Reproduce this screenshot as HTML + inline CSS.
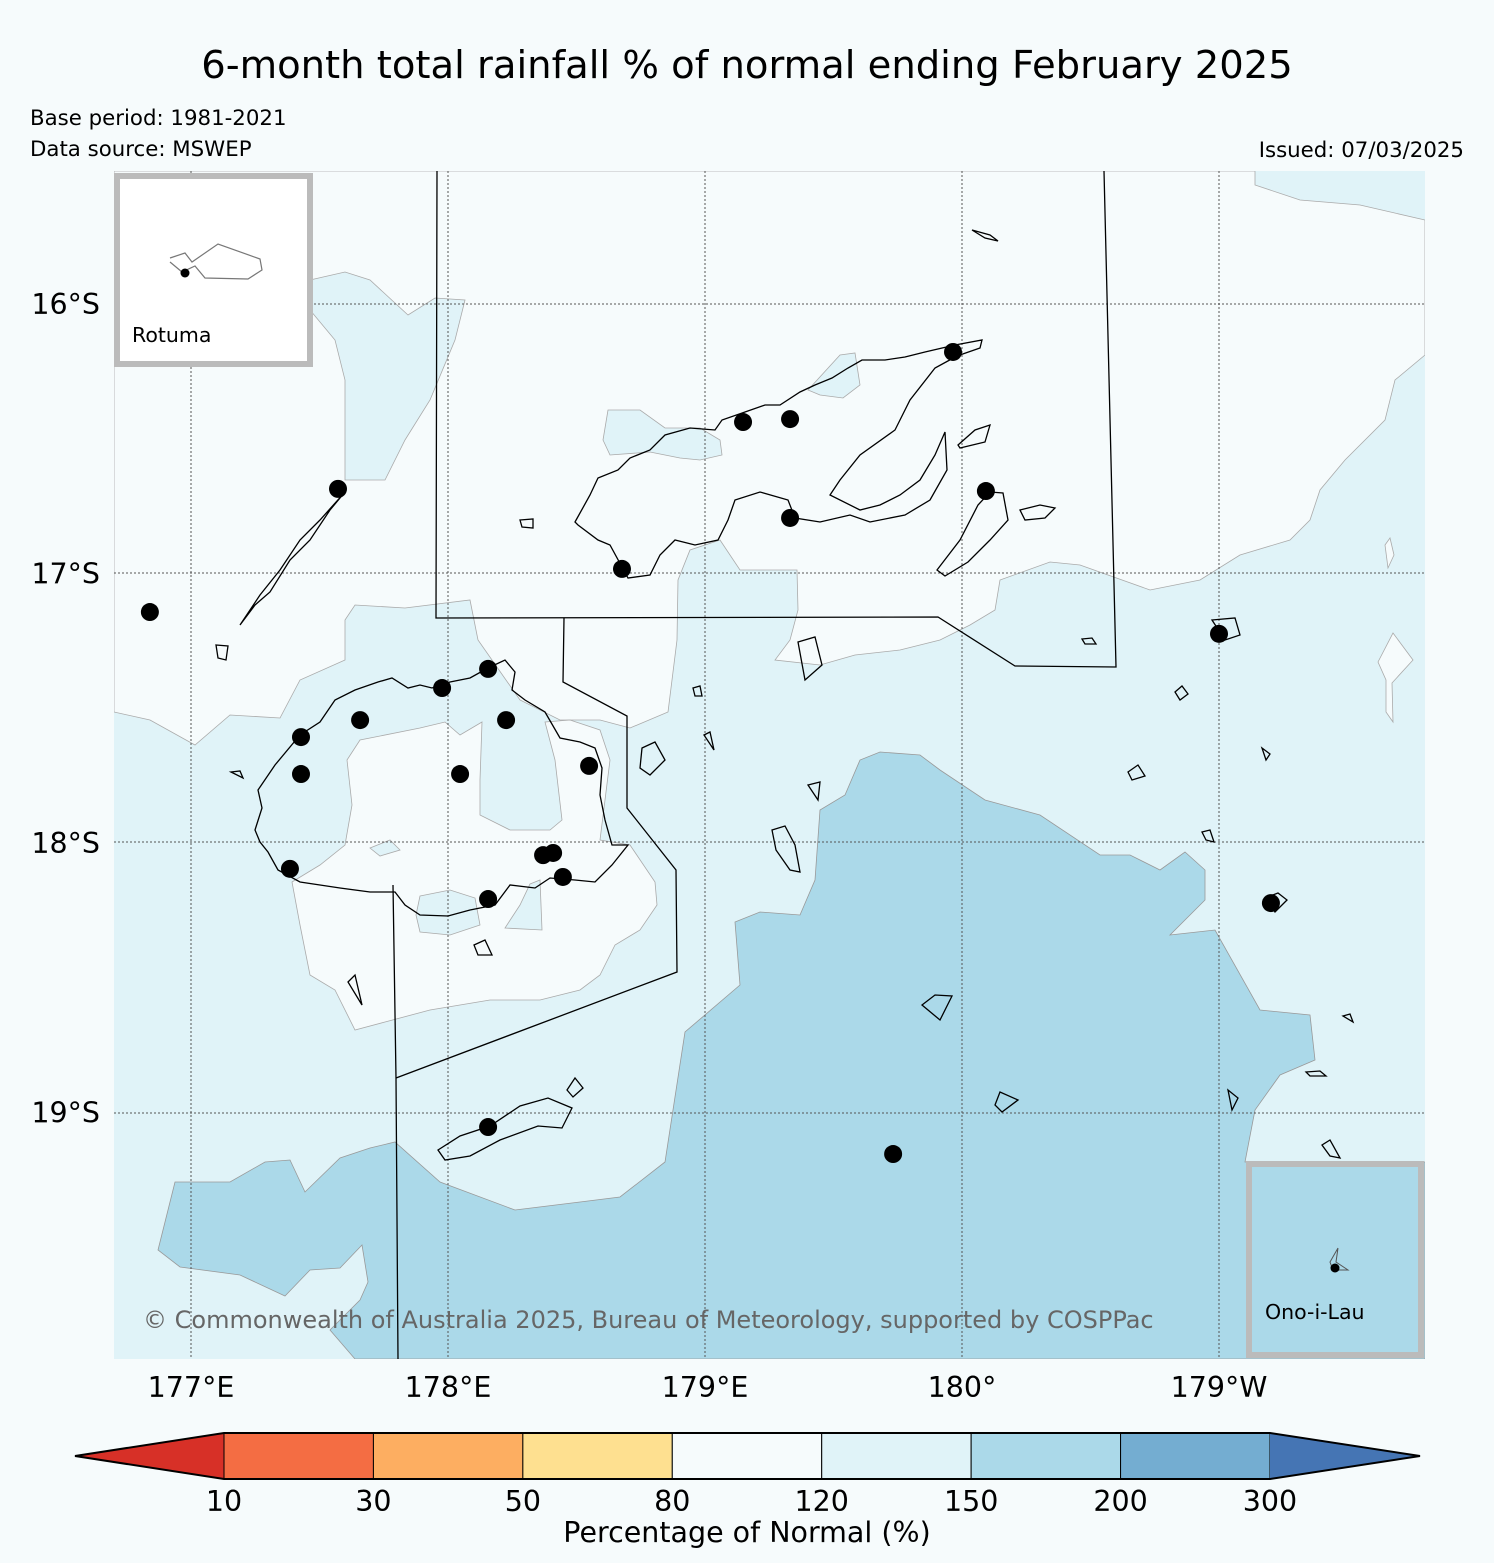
<!DOCTYPE html>
<html><head><meta charset="utf-8"><style>
html,body{margin:0;padding:0;background:#f6fbfc;}
svg{display:block;font-family:"DejaVu Sans","Liberation Sans",sans-serif;}
</style></head><body>
<svg id="fig" width="1494" height="1563" viewBox="0 0 1494 1563" xmlns="http://www.w3.org/2000/svg">
<rect width="1494" height="1563" fill="#f6fbfc"/>
<text x="747" y="78" font-size="38.5" text-anchor="middle" fill="#000">6-month total rainfall % of normal ending February 2025</text>
<text x="30" y="125" font-size="21.3">Base period: 1981-2021</text>
<text x="30" y="156" font-size="21.3">Data source: MSWEP</text>
<text x="1464" y="157" font-size="21.3" text-anchor="end">Issued: 07/03/2025</text>

<defs><clipPath id="mapclip"><rect x="114" y="171" width="1311" height="1188"/></clipPath></defs>
<g id="map" clip-path="url(#mapclip)">
<rect x="114" y="171" width="1311" height="1188" fill="#e0f3f8"/>
<polygon fill="#f6fbfc" stroke="#aaa" stroke-width="0.8" points="114,171 1255,171 1255,185 1300,200 1360,205 1425,220 1425,355 1395,380 1385,420 1345,460 1320,490 1310,520 1290,540 1240,555 1200,580 1150,590 1080,565 1050,562 1000,580 995,610 970,625 940,640 900,650 855,655 820,665 775,660 790,640 798,610 797,570 740,570 720,540 690,550 678,580 677,640 668,712 630,728 600,720 560,720 520,700 478,640 470,600 405,608 355,605 345,620 345,660 300,680 280,718 230,715 195,745 150,720 114,712"/>
<polygon fill="#e0f3f8" stroke="#aaa" stroke-width="0.8" points="310,280 345,272 370,280 408,315 435,298 465,300 455,340 430,400 405,440 385,480 345,480 345,380 335,340 310,310"/>
<polygon fill="#e0f3f8" stroke="#aaa" stroke-width="0.8" points="608,410 640,410 665,428 700,428 720,440 722,455 700,460 680,458 650,452 610,455 603,440"/>
<polygon fill="#e0f3f8" stroke="#aaa" stroke-width="0.8" points="808,390 840,355 855,353 860,385 843,398 820,395"/>
<polygon fill="#f6fbfc" stroke="#aaa" stroke-width="0.8" points="1385,545 1390,538 1394,555 1388,568"/>
<polygon fill="#f6fbfc" stroke="#aaa" stroke-width="0.8" points="1378,662 1393,633 1413,660 1392,683 1393,722 1386,712 1386,680"/>
<polygon fill="#f6fbfc" stroke="#aaa" stroke-width="0.8" points="292,882 320,865 345,845 352,805 347,760 360,740 420,728 445,722 460,735 482,722 480,780 480,815 510,830 550,830 562,820 555,760 545,722 570,720 600,730 610,760 605,800 600,840 630,845 655,882 657,905 640,930 615,945 600,975 580,990 540,1000 490,1000 430,1010 385,1022 355,1030 335,990 310,975 300,925"/>
<polygon fill="#e0f3f8" stroke="#aaa" stroke-width="0.8" points="420,896 450,890 475,898 480,925 450,935 420,932 416,915"/>
<polygon fill="#e0f3f8" stroke="#aaa" stroke-width="0.8" points="530,884 540,880 542,930 505,928 520,905"/>
<polygon fill="#e0f3f8" stroke="#aaa" stroke-width="0.8" points="370,848 390,840 400,850 380,856"/>
<polygon fill="#abd9e9" stroke="#999" stroke-width="0.8" points="158,1250 175,1182 230,1182 265,1162 290,1160 305,1192 340,1158 370,1148 395,1142 440,1182 515,1210 580,1202 620,1197 665,1162 685,1032 740,985 735,922 760,912 800,915 815,880 820,810 845,795 860,760 880,752 920,755 940,770 985,800 1040,815 1100,855 1130,855 1160,870 1185,852 1205,870 1205,900 1170,935 1215,930 1260,1010 1310,1015 1315,1060 1280,1075 1255,1110 1245,1162 1425,1162 1425,1359 355,1359 330,1330 360,1300 368,1282 362,1245 340,1268 310,1270 285,1296 240,1275 180,1267"/>
<g stroke="#555" stroke-width="1" stroke-dasharray="2,2" fill="none">
<line x1="191" y1="171" x2="191" y2="1359"/><line x1="448" y1="171" x2="448" y2="1359"/><line x1="705" y1="171" x2="705" y2="1359"/><line x1="962" y1="171" x2="962" y2="1359"/><line x1="1219" y1="171" x2="1219" y2="1359"/>
<line x1="114" y1="304" x2="1425" y2="304"/><line x1="114" y1="573" x2="1425" y2="573"/><line x1="114" y1="842" x2="1425" y2="842"/><line x1="114" y1="1113" x2="1425" y2="1113"/>
</g>
<g fill="none" stroke="#000" stroke-width="1.3">
<polygon points="255,830 262,808 258,790 275,765 300,735 320,722 335,700 355,690 378,682 392,678 408,688 420,685 432,688 450,682 470,678 488,668 505,660 515,672 512,690 525,700 545,712 560,738 580,742 595,748 602,768 600,795 605,820 612,845 628,845 612,865 595,882 575,880 550,878 535,888 510,885 495,905 470,910 448,916 420,915 405,905 395,892 370,892 340,888 320,885 300,882 278,870 268,852 260,842"/>
<polygon points="575,522 590,495 598,478 618,470 630,458 650,450 665,435 690,428 715,430 722,420 745,412 765,405 780,405 800,392 815,385 832,378 848,368 862,360 885,360 905,357 925,352 955,345 982,340 980,348 957,356 935,368 910,400 895,430 860,455 840,480 830,495 860,510 880,505 900,495 920,480 935,455 945,432 947,470 930,500 905,515 870,522 850,515 820,522 795,518 788,500 760,492 735,500 728,520 718,540 695,545 675,540 660,555 650,575 628,578 610,545 598,540 578,525"/>
<polygon points="937,570 960,540 978,505 990,492 1003,493 1008,520 990,540 968,562 945,576"/>
<polygon points="438,1150 460,1136 490,1126 520,1106 548,1098 572,1108 562,1128 538,1126 500,1140 470,1156 445,1160"/>
<polygon points="240,625 255,605 270,592 290,560 310,540 330,510 345,492 320,520 300,540 280,570 260,595"/>
<polygon points="772,830 785,826 795,845 800,872 790,870 776,850"/>
<polygon points="642,748 655,742 665,760 650,775 640,768"/>
<polygon points="922,1005 935,995 952,996 940,1020"/>
<polygon points="995,1105 1000,1092 1018,1100 1002,1112"/>
<polygon points="1265,898 1278,893 1287,900 1275,912"/>
<polygon points="348,982 355,975 362,1005"/>
<polygon points="474,945 485,940 492,955 478,955"/>
<polygon points="798,642 815,637 822,665 805,680"/>
<polygon points="1128,772 1138,765 1145,776 1132,780"/>
<polygon points="1175,692 1182,686 1188,694 1180,700"/>
<polygon points="1212,620 1235,618 1240,635 1225,640"/>
<polygon points="1228,1090 1238,1098 1232,1110"/>
<polygon points="972,230 990,235 998,241 985,238"/>
<polygon points="958,445 975,430 990,425 985,442 960,448"/>
<polygon points="1020,510 1040,505 1055,508 1045,518 1025,520"/>
<polygon points="216,645 228,646 226,660 218,658"/>
<polygon points="520,520 533,519 533,528 522,527"/>
<polygon points="231,772 240,771 243,778"/>
<polygon points="567,1090 575,1078 583,1088 573,1097"/>
<polygon points="808,785 820,782 818,800"/>
<polygon points="1202,832 1210,830 1214,842 1206,840"/>
<polygon points="1262,748 1270,754 1266,760"/>
<polygon points="1343,1016 1350,1014 1353,1022"/>
<polygon points="1306,1072 1320,1071 1326,1076 1310,1076"/>
<polygon points="1322,1145 1330,1140 1340,1158 1330,1156"/>
<polygon points="1082,639 1092,638 1096,644 1085,644"/>
<polygon points="693,688 700,686 702,696 695,696"/>
<polygon points="704,735 710,732 714,750"/>
</g>
<g fill="none" stroke="#000" stroke-width="1.3">
<polyline points="437,171 436,618 938,617 1015,666 1116,667 1104,171"/>
<polyline points="564,618 563,682 627,716 627,808 676,870 677,972 396,1078"/>
<polyline points="393,885 396,1078 398,1359"/>
</g>
<g id="stations"></g>
<text x="143" y="1328" font-size="24" fill="#666">© Commonwealth of Australia 2025, Bureau of Meteorology, supported by COSPPac</text>
</g>

<g>
<rect x="117" y="176" width="193" height="188" fill="#fff" stroke="#bbb" stroke-width="6"/>
<polyline points="170,258 185,253 192,262 218,244 260,259 262,270 248,279 205,278 195,266 182,272 170,262" fill="none" stroke="#777" stroke-width="1.2"/>
<circle cx="185" cy="273" r="4.5" fill="#000"/>
<text x="132" y="342" font-size="20.5">Rotuma</text>
</g>
<g>
<rect x="1249" y="1164" width="172" height="191" fill="#abd9e9" stroke="#bbb" stroke-width="6"/>
<polyline points="1338,1248 1330,1262 1333,1270 1348,1270 1336,1262 1338,1248" fill="none" stroke="#555" stroke-width="1"/>
<circle cx="1335" cy="1268" r="4.5" fill="#000"/>
<text x="1265" y="1319" font-size="20.5">Ono-i-Lau</text>
</g>

<g id="axes-labels" font-size="28.5"></g>
<g id="colorbar"></g>
<text x="747" y="1542" font-size="28.5" text-anchor="middle">Percentage of Normal (%)</text>
</svg>
<script>
// station data (longitude east, 0-360; latitude south)
const stationLon = [177.572,176.840,179.965,179.148,179.331,180.093,179.331,178.677,181.0,177.977,178.156,177.658,178.226,177.428,177.428,178.047,178.549,178.370,178.409,178.447,177.385,178.156,178.156,179.732,181.202];
const stationLat = [16.686,17.143,16.178,16.438,16.427,16.694,16.794,16.983,17.224,17.425,17.354,17.544,17.544,17.607,17.744,17.744,17.714,18.045,18.037,18.126,18.096,18.208,19.054,19.154,18.223];
const lonTicks = [177,178,179,180,181];
const lonTickLabels = ["177°E","178°E","179°E","180°","179°W"];
const latTicks = [16,17,18,19];
const latTickLabels = ["16°S","17°S","18°S","19°S"];
const cbBounds = ["10","30","50","80","120","150","200","300"];
const cbColors = ["#d73027","#f46d43","#fdae61","#fee090","#f6fbfc","#e0f3f8","#abd9e9","#74add1","#4575b4"];

const NS = "http://www.w3.org/2000/svg";
function xLon(lon){ return 191 + (lon - 177) * 257; }
function yLat(lat){ return 304 + (lat - 16) * 269.5; }
function mk(tag, attrs){ const e = document.createElementNS(NS, tag); for (const k in attrs) e.setAttribute(k, attrs[k]); return e; }

const st = document.getElementById('stations');
stationLon.forEach((lon, i) => {
  const c = mk('circle', {cx: xLon(lon), cy: yLat(stationLat[i]), r: 9, fill: '#000'});
  
  
  st.appendChild(c);
});

const ax = document.getElementById('axes-labels');
lonTicks.forEach((lon, i) => {
  const t = mk('text', {x: xLon(lon), y: 1397, 'text-anchor': 'middle'});
  t.textContent = lonTickLabels[i];
  
  
  ax.appendChild(t);
});
latTicks.forEach((lat, i) => {
  const t = mk('text', {x: 100, y: yLat(lat) + 10, 'text-anchor': 'end'});
  t.textContent = latTickLabels[i];
  
  
  ax.appendChild(t);
});

// colorbar
const cb = document.getElementById('colorbar');
const x0 = 224, x1 = 1270, yT = 1433, yB = 1479, n = cbBounds.length - 1;
const w = (x1 - x0) / n;
function cbX(i){ return x0 + i * w; }
const lt = mk('polygon', {points: `${cbX(0)},${yT} ${cbX(0)},${yB} 75,${(yT+yB)/2}`, fill: cbColors[0]});


cb.appendChild(lt);
for (let i = 0; i < n; i++) {
  const r = mk('rect', {x: cbX(i), y: yT, width: w, height: yB - yT, fill: cbColors[i + 1], stroke: '#000', 'stroke-width': 1});
  
  
  cb.appendChild(r);
}
const rt = mk('polygon', {points: `${cbX(n)},${yT} ${cbX(n)},${yB} 1420,${(yT+yB)/2}`, fill: cbColors[cbColors.length - 1]});


cb.appendChild(rt);
const outline = mk('polygon', {points: `75,${(yT+yB)/2} ${cbX(0)},${yT} ${cbX(n)},${yT} 1420,${(yT+yB)/2} ${cbX(n)},${yB} ${cbX(0)},${yB}`, fill: 'none', stroke: '#000', 'stroke-width': 2});


cb.appendChild(outline);
cbBounds.forEach((b, i) => {
  const t = mk('text', {x: cbX(i), y: 1511, 'text-anchor': 'middle', 'font-size': 28.5});
  t.textContent = b;
  
  
  cb.appendChild(t);
});
</script>
</body></html>
